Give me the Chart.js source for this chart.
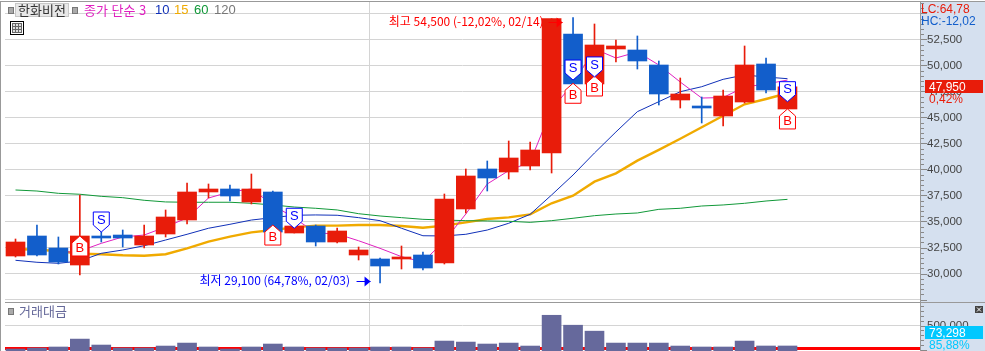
<!DOCTYPE html>
<html lang="ko">
<head>
<meta charset="utf-8">
<title>한화비전</title>
<script src="https://cdn.jsdelivr.net/npm/chart.js@4/dist/chart.umd.min.js"></script>
<style>
  html, body { margin: 0; padding: 0; background: #fff; overflow: hidden; }
  body { width: 985px; height: 351px; position: relative; font-family: "Noto Sans CJK KR", "Liberation Sans", sans-serif; }
  canvas { position: absolute; left: 0; }
  #priceChart { top: 0; }
  #volumeChart { top: 303px; }
  .side { position: absolute; left: 921px; top: 2px; width: 64px; height: 349px; background: #d5e0ef; }
  .edge { position: absolute; background: #999; }
  .t { position: absolute; white-space: nowrap; line-height: 14px; font-size: 13px; }
  .num { font-family: "Liberation Sans", sans-serif; font-size: 12px; }
  .sq { position: absolute; width: 4px; height: 5px; background: #aaa; border: 1px solid #777; }
  .tag { position: absolute; left: 925px; width: 58px; height: 13px; }
</style>
</head>
<body>
<div class="side"></div>
<canvas id="priceChart" width="985" height="302"></canvas>
<canvas id="volumeChart" width="985" height="48"></canvas>
<div class="edge" style="left:0;top:1px;width:985px;height:1px"></div>
<div class="edge" style="left:0;top:1px;width:1px;height:350px"></div>
<div class="edge" style="left:5px;top:302px;width:980px;height:1px"></div>
<div class="edge" style="left:920px;top:2px;width:1px;height:349px"></div>

<div class="sq" style="left:8px;top:7px"></div>
<div class="t" style="left:15px;top:3px;width:52px;height:12px;background:#e8e8e8;border:1px solid #c8c8c8;line-height:12px;text-align:center;color:#333">한화비전</div>
<div class="sq" style="left:72px;top:7px"></div>
<div class="t" style="left:84px;top:3px;color:#e020c0">종가 단순 3</div>
<div class="t num" style="left:155px;top:3px;color:#1030b8;font-size:13px">10</div>
<div class="t num" style="left:174px;top:3px;color:#f0aa00;font-size:13px">15</div>
<div class="t num" style="left:194px;top:3px;color:#109838;font-size:13px">60</div>
<div class="t num" style="left:214px;top:3px;color:#777;font-size:13px">120</div>
<svg style="position:absolute;left:10px;top:21px" width="14" height="14">
  <rect x="0.5" y="0.5" width="13" height="13" fill="#fff" stroke="#000"/>
  <rect x="2.5" y="2.5" width="9" height="9" fill="#ddd" stroke="#666"/>
  <path d="M5.5 2.5V11.5M8.5 2.5V11.5M2.5 5.5H11.5M2.5 8.5H11.5" stroke="#666" fill="none"/>
</svg>

<div class="sq" style="left:8px;top:308px"></div>
<div class="t" style="left:19px;top:304px;color:#66699a">거래대금</div>

<div class="t num" style="left:921px;top:2px;color:#e81c0a">LC:64,78</div>
<div class="t num" style="left:921px;top:14px;color:#125ecb">HC:-12,02</div>
<div class="tag" style="top:80px;background:#e81c0a"></div>
<div class="t num" style="left:929px;top:80px;color:#fff">47,950</div>
<div class="t num" style="left:929px;top:92px;color:#e81c0a">0,42%</div>
<div class="tag" style="top:326px;background:#00c8ff"></div>
<div class="t num" style="left:929px;top:326px;color:#fff">73,298</div>
<div class="t num" style="left:929px;top:338px;color:#00c8ff">85,88%</div>
<svg style="position:absolute;left:975px;top:306px" width="8" height="7">
  <rect width="8" height="7" fill="#444"/>
  <path d="M2 1.5L6 5.5M6 1.5L2 5.5" stroke="#fff" fill="none"/>
</svg>

<script>
const opens = [31683, 33606, 32452, 30817, 33606, 33700, 32740, 33798, 35144, 37837, 38125, 36875, 37837, 33894, 34567, 33029, 31779, 31394, 31394, 31779, 31010, 36202, 40048, 39760, 40336, 41587, 53029, 48221, 51587, 51490, 50048, 46683, 46106, 45144, 46490, 50144, 45817];
const highs = [33317, 34663, 33510, 37548, 34279, 34183, 34663, 36106, 38702, 38606, 38510, 39567, 37933, 34567, 34660, 34375, 32548, 31490, 32644, 32067, 37644, 40048, 40817, 42740, 42644, 54500, 54600, 53990, 52452, 52837, 50433, 48798, 46971, 47644, 51875, 50721, 47950];
const lows = [31587, 31683, 30913, 29856, 33029, 32548, 32452, 33510, 34760, 37260, 36971, 36683, 33800, 33894, 32644, 32933, 31300, 29100, 30433, 30337, 30913, 35817, 37933, 39087, 39952, 39663, 48000, 48000, 50336, 49663, 46202, 45913, 44471, 44183, 46394, 47356, 45817];
const closes = [33029, 31779, 31106, 33606, 33413, 33413, 33606, 35433, 37837, 38125, 37452, 38125, 33990, 34567, 33029, 34087, 32260, 30721, 31587, 30529, 37163, 39375, 39183, 41106, 41875, 54500, 48221, 51971, 51875, 50433, 47260, 47260, 45913, 47067, 50048, 47644, 47950];

const ma3 = [null, null, 31970, 32160, 32900, 33510, 33700, 34470, 35340, 37260, 37840, 38130, 36590, 35340, 33900, 33800, 33150, 32420, 31620, 31110, 33130, 35720, 38610, 39890, 40720, 45830, 48220, 51590, 50720, 51300, 50050, 48410, 46870, 46920, 47930, 48220, 48600];
const ma10 = [31270, 31080, 30980, 31200, 31940, 32260, 32670, 33220, 33770, 34350, 34730, 35140, 35370, 35600, 35630, 35600, 35370, 35080, 34350, 33630, 33610, 33770, 34180, 34830, 35690, 37550, 39470, 41590, 43610, 45560, 46520, 47480, 47960, 48670, 49090, 48890, 48730];
const ma15 = [32360, 32290, 32160, 31900, 31850, 31750, 31710, 31850, 32420, 33060, 33540, 33960, 34180, 34440, 34600, 34600, 34660, 34660, 34570, 34400, 34600, 34920, 35240, 35400, 35690, 36750, 37480, 38830, 39630, 40850, 41880, 42960, 44060, 45170, 46270, 46780, 47330];
const ma60 = [38030, 37930, 37710, 37620, 37420, 37290, 37040, 36880, 36850, 36850, 36850, 36750, 36590, 36390, 36270, 36110, 35750, 35530, 35370, 35210, 35140, 35080, 35050, 35020, 34920, 35080, 35310, 35560, 35720, 35820, 36170, 36270, 36490, 36590, 36750, 36970, 37130];
const volumes = [10000, 31000, 52000, 217000, 93000, 31000, 31000, 72000, 134000, 52000, 10000, 52000, 114000, 52000, 31000, 31000, 31000, 52000, 52000, 31000, 176000, 155000, 114000, 134000, 72000, 713000, 506000, 382000, 134000, 134000, 134000, 72000, 52000, 52000, 176000, 73000, 73298];
const volumeFloor = 20000;

const priceTicks = [27500, 30000, 32500, 35000, 37500, 40000, 42500, 45000, 47500, 50000, 52500, 55000];
const priceLabels = [30000, 32500, 35000, 37500, 40000, 42500, 45000, 47500, 50000, 52500];
const volumeTicks = [500000];
const monthBreaks = [16.5];

const sellSignals = [[4, 33990], [13, 34350], [26, 48600], [27, 48900], [36, 46520]];
const buySignals = [[3, 33606], [12, 34660], [26, 48290], [27, 48990], [36, 45820]];
const highNote = "최고 54,500 (-12,02%, 02/14)";
const lowNote = "최저 29,100 (64,78%, 02/03)";

const RED = "#e81c0a", BLUE = "#125ecb", GRID = "#d4d4d4";
const xMin = -0.49, xMax = 42.18;
const fmt = v => v.toLocaleString("en-US");
const candleColor = closes.map((c, i) => (c >= opens[i] ? RED : BLUE));
const xScale = {
  type: "linear",
  min: xMin,
  max: xMax,
  offset: false,
  afterFit: s => { s.height = 0; },
  afterBuildTicks: s => { s.ticks = monthBreaks.map(value => ({ value })); },
  ticks: { display: false },
  grid: { color: GRID, drawTicks: false, offset: false },
  border: { display: false }
};
const fitY = s => { s.width = 65; s.paddingTop = 0; s.paddingBottom = 0; };

function maLine(values, color, width) {
  return {
    type: "line",
    data: values.map((y, x) => ({ x, y })),
    borderColor: color,
    borderWidth: width,
    pointRadius: 0,
    tension: 0,
    order: 3
  };
}

// 축 눈금 (큰 눈금 + 작은 눈금)
function axisTicks(step, majorStep) {
  return {
    id: "axisTicks",
    afterDraw(chart) {
      const { ctx, chartArea } = chart, y = chart.scales.y;
      ctx.save();
      ctx.strokeStyle = "#888";
      ctx.beginPath();
      for (let v = Math.ceil(y.min / step) * step; v <= y.max; v += step) {
        const py = Math.round(y.getPixelForValue(v)) + 0.5;
        const len = v % majorStep === 0 ? 6 : 3;
        ctx.moveTo(chartArea.right + 1, py);
        ctx.lineTo(chartArea.right + 1 + len, py);
      }
      ctx.stroke();
      ctx.restore();
    }
  };
}

function drawFlag(ctx, x, tipY, dir, color, letter) {
  const hw = 8, shoulder = 7, h = 20;
  ctx.beginPath();
  ctx.moveTo(x, tipY);
  ctx.lineTo(x + hw, tipY + dir * shoulder);
  ctx.lineTo(x + hw, tipY + dir * h);
  ctx.lineTo(x - hw, tipY + dir * h);
  ctx.lineTo(x - hw, tipY + dir * shoulder);
  ctx.closePath();
  ctx.fillStyle = "#fff";
  ctx.fill();
  ctx.strokeStyle = color;
  ctx.lineWidth = 1;
  ctx.stroke();
  ctx.fillStyle = color;
  ctx.font = "13px 'Liberation Sans', sans-serif";
  ctx.textAlign = "center";
  ctx.textBaseline = "middle";
  ctx.fillText(letter, x, tipY + dir * 12);
}

function drawNote(ctx, text, tipX, y, color, textRight) {
  ctx.fillStyle = color;
  ctx.strokeStyle = color;
  ctx.font = "12px 'Noto Sans CJK KR', sans-serif";
  ctx.textAlign = "right";
  ctx.textBaseline = "middle";
  ctx.fillText(text, textRight, y - 1);
  ctx.beginPath();
  ctx.moveTo(tipX - 14, y + 0.5);
  ctx.lineTo(tipX, y + 0.5);
  ctx.stroke();
  ctx.beginPath();
  ctx.moveTo(tipX, y + 0.5);
  ctx.lineTo(tipX - 6, y - 4.5);
  ctx.lineTo(tipX - 6, y + 5.5);
  ctx.closePath();
  ctx.fill();
}

const signalPlugin = {
  id: "signals",
  afterDatasetsDraw(chart) {
    const { ctx, scales: { x, y } } = chart;
    ctx.save();
    buySignals.forEach(([i, v]) => drawFlag(ctx, x.getPixelForValue(i), y.getPixelForValue(v), 1, "#ff0000", "B"));
    sellSignals.forEach(([i, v]) => drawFlag(ctx, x.getPixelForValue(i), y.getPixelForValue(v), -1, "#0000ff", "S"));
    const hi = highs.indexOf(54500);
    const lo = lows.indexOf(29100);
    const hx = x.getPixelForValue(hi), lx = x.getPixelForValue(lo);
    drawNote(ctx, highNote, hx + 11, Math.round(y.getPixelForValue(highs[hi])) + 3, "#ff0000", hx - 8);
    drawNote(ctx, lowNote, lx - 9.5, Math.round(y.getPixelForValue(lows[lo])) - 2, "#0000ff", lx - 30);
    ctx.restore();
  }
};

new Chart(document.getElementById("priceChart"), {
  data: {
    datasets: [
      maLine(ma60, "#109838", 1),
      maLine(ma3, "#e020c0", 1),
      maLine(ma10, "#1030b8", 1),
      maLine(ma15, "#f0aa00", 2.4),
      {
        type: "bar",
        data: opens.map((o, x) => ({ x, y: [lows[x], highs[x]] })),
        backgroundColor: candleColor,
        barThickness: 1,
        grouped: false,
        order: 2
      },
      {
        type: "bar",
        data: opens.map((o, x) => ({ x, y: [o, closes[x]] })),
        backgroundColor: candleColor,
        barThickness: 19,
        grouped: false,
        order: 1
      }
    ]
  },
  options: {
    responsive: false,
    animation: false,
    events: [],
    layout: { padding: { left: 5, top: 1, bottom: 1, right: 0 } },
    plugins: { legend: { display: false }, tooltip: { enabled: false } },
    scales: {
      x: xScale,
      y: {
        position: "right",
        min: 27356,
        max: 56201,
        afterFit: fitY,
        afterBuildTicks: s => { s.ticks = priceTicks.map(value => ({ value })); },
        ticks: {
          padding: 7,
          color: "#444",
          font: { family: "'Liberation Sans', sans-serif", size: 11.5 },
          callback: v => (priceLabels.includes(v) ? fmt(v) : "")
        },
        grid: { color: GRID, drawTicks: false },
        border: { display: false }
      }
    }
  },
  plugins: [signalPlugin, axisTicks(500, 2500)]
});

new Chart(document.getElementById("volumeChart"), {
  data: {
    datasets: [
      {
        type: "line",
        data: [{ x: xMin, y: volumeFloor }, { x: xMax, y: volumeFloor }],
        borderColor: "#ff0000",
        borderWidth: 3,
        pointRadius: 0,
        order: 2
      },
      {
        type: "bar",
        data: volumes.map((y, x) => ({ x, y })),
        backgroundColor: "#66699c",
        barThickness: 19,
        base: -31250,
        order: 1
      }
    ]
  },
  options: {
    responsive: false,
    animation: false,
    events: [],
    layout: { padding: { left: 5, top: 0, bottom: 0, right: 0 } },
    plugins: { legend: { display: false }, tooltip: { enabled: false } },
    scales: {
      x: xScale,
      y: {
        position: "right",
        min: -31250,
        max: 968750,
        afterFit: fitY,
        afterBuildTicks: s => { s.ticks = volumeTicks.map(value => ({ value })); },
        ticks: {
          padding: 7,
          color: "#444",
          font: { family: "'Liberation Sans', sans-serif", size: 11.5 },
          callback: v => fmt(v)
        },
        grid: { color: GRID, drawTicks: false },
        border: { display: false }
      }
    }
  },
  plugins: [axisTicks(100000, 500000)]
});
</script>
</body>
</html>
